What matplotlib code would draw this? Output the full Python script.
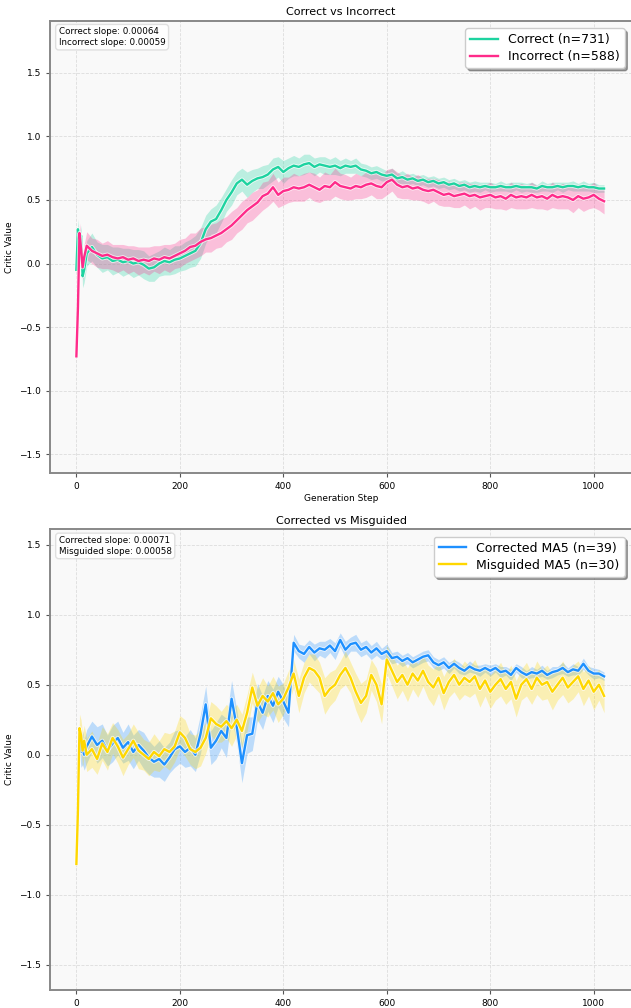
import numpy as np
import matplotlib
matplotlib.use('Agg')
import matplotlib.pyplot as plt
import matplotlib.patheffects as pe

# Generation steps (dense at the start, then every 10 steps)
steps = np.concatenate([[0, 3, 6, 9, 12, 15], np.arange(20, 1021, 10)])

# --- Correct vs Incorrect ---
correct_mean = [
    -0.05, 0.27, 0.12, 0.22, -0.10, -0.05,
    0.08, 0.13, 0.07, 0.04, 0.05, 0.02, 0.03, 0.01, 0.02, 0.00,
    0.01, -0.01, -0.04, -0.03, 0.00, 0.02, 0.01, 0.03, 0.04, 0.06,
    0.08, 0.10, 0.16, 0.27, 0.33, 0.35, 0.42, 0.50, 0.56, 0.63,
    0.66, 0.62, 0.65, 0.67, 0.68, 0.70, 0.74, 0.76, 0.72, 0.75,
    0.77, 0.76, 0.78, 0.79, 0.76, 0.78, 0.77, 0.76, 0.77, 0.75,
    0.77, 0.76, 0.77, 0.74, 0.73, 0.71, 0.72, 0.70, 0.69, 0.70,
    0.67, 0.68, 0.66, 0.67, 0.65, 0.66, 0.64, 0.65, 0.63, 0.64,
    0.62, 0.63, 0.61, 0.62, 0.60, 0.61, 0.60, 0.61, 0.60, 0.60,
    0.61, 0.60, 0.60, 0.61, 0.60, 0.60, 0.60, 0.59, 0.61, 0.60,
    0.60, 0.61, 0.60, 0.61, 0.61, 0.60, 0.61, 0.60, 0.60, 0.59,
    0.59]
correct_err = [
    0.06, 0.08, 0.08, 0.08, 0.09, 0.10,
    0.10, 0.11, 0.10, 0.11, 0.10, 0.11, 0.10, 0.11, 0.10, 0.11,
    0.10, 0.11, 0.10, 0.11, 0.10, 0.11, 0.10, 0.11, 0.10, 0.11,
    0.11, 0.12, 0.12, 0.11, 0.10, 0.11, 0.10, 0.09, 0.10, 0.09,
    0.09, 0.10, 0.09, 0.08, 0.09, 0.08, 0.09, 0.08, 0.09, 0.08,
    0.08, 0.07, 0.08, 0.07, 0.07, 0.06, 0.07, 0.06, 0.07, 0.06,
    0.06, 0.05, 0.06, 0.05, 0.05, 0.05, 0.05, 0.05, 0.04, 0.05,
    0.04, 0.05, 0.04, 0.04, 0.04, 0.04, 0.04, 0.04, 0.04, 0.04,
    0.04, 0.04, 0.04, 0.04, 0.04, 0.04, 0.04, 0.03, 0.04, 0.03,
    0.04, 0.03, 0.04, 0.03, 0.04, 0.03, 0.04, 0.03, 0.04, 0.03,
    0.04, 0.03, 0.04, 0.03, 0.04, 0.03, 0.04, 0.03, 0.04, 0.03,
    0.03]
incorrect_mean = [
    -0.73, -0.35, 0.24, 0.12, -0.03, 0.05,
    0.14, 0.10, 0.08, 0.06, 0.07, 0.05, 0.04, 0.05, 0.03, 0.04,
    0.02, 0.03, 0.02, 0.04, 0.03, 0.05, 0.04, 0.06, 0.08, 0.10,
    0.13, 0.14, 0.17, 0.19, 0.20, 0.22, 0.24, 0.27, 0.30, 0.34,
    0.38, 0.42, 0.45, 0.48, 0.53, 0.55, 0.60, 0.54, 0.57, 0.58,
    0.60, 0.59, 0.60, 0.62, 0.60, 0.58, 0.61, 0.60, 0.64, 0.61,
    0.60, 0.59, 0.61, 0.60, 0.62, 0.63, 0.61, 0.60, 0.64, 0.66,
    0.62, 0.60, 0.61, 0.59, 0.60, 0.58, 0.57, 0.58, 0.56, 0.54,
    0.55, 0.53, 0.54, 0.55, 0.53, 0.54, 0.52, 0.53, 0.54, 0.52,
    0.53, 0.51, 0.54, 0.52, 0.53, 0.52, 0.54, 0.52, 0.53, 0.51,
    0.54, 0.52, 0.53, 0.52, 0.50, 0.53, 0.51, 0.52, 0.54, 0.51,
    0.49]
incorrect_err = [
    0.04, 0.06, 0.08, 0.09, 0.10, 0.10,
    0.11, 0.10, 0.11, 0.10, 0.11, 0.10, 0.11, 0.10, 0.11, 0.10,
    0.11, 0.10, 0.11, 0.10, 0.11, 0.10, 0.11, 0.10, 0.11, 0.10,
    0.11, 0.10, 0.11, 0.10, 0.11, 0.10, 0.11, 0.10, 0.11, 0.10,
    0.11, 0.10, 0.11, 0.10, 0.11, 0.10, 0.11, 0.10, 0.11, 0.10,
    0.11, 0.10, 0.11, 0.10, 0.11, 0.10, 0.11, 0.10, 0.11, 0.10,
    0.10, 0.09, 0.10, 0.09, 0.10, 0.09, 0.10, 0.09, 0.10, 0.09,
    0.10, 0.09, 0.10, 0.09, 0.10, 0.09, 0.10, 0.09, 0.10, 0.09,
    0.10, 0.09, 0.10, 0.09, 0.10, 0.09, 0.10, 0.09, 0.10, 0.09,
    0.10, 0.09, 0.10, 0.09, 0.10, 0.09, 0.10, 0.09, 0.10, 0.09,
    0.10, 0.09, 0.10, 0.09, 0.10, 0.09, 0.10, 0.09, 0.10, 0.09,
    0.10]

# --- Corrected vs Misguided (MA5) ---
corrected_mean = [
    np.nan, np.nan, 0.10, 0.02, 0.05, 0.00,
    0.06, 0.13, 0.07, 0.10, 0.03, 0.08, 0.12, 0.05, 0.09, 0.02,
    0.07, 0.03, -0.02, -0.05, -0.03, -0.07, -0.02, 0.04, 0.06, 0.02,
    0.05, 0.00, 0.15, 0.36, 0.05, 0.10, 0.17, 0.12, 0.40, 0.20,
    -0.06, 0.14, 0.15, 0.38, 0.30, 0.42, 0.35, 0.45, 0.38, 0.30,
    0.80, 0.74, 0.72, 0.77, 0.73, 0.76, 0.75, 0.78, 0.74, 0.82,
    0.75, 0.79, 0.80, 0.75, 0.77, 0.73, 0.76, 0.72, 0.74, 0.69,
    0.70, 0.67, 0.69, 0.66, 0.68, 0.70, 0.71, 0.66, 0.64, 0.66,
    0.62, 0.65, 0.62, 0.60, 0.63, 0.61, 0.60, 0.62, 0.60, 0.62,
    0.59, 0.60, 0.57, 0.62, 0.59, 0.57, 0.59, 0.58, 0.60, 0.57,
    0.59, 0.60, 0.62, 0.59, 0.61, 0.60, 0.65, 0.60, 0.58, 0.58,
    0.56]
corrected_err = [
    np.nan, np.nan, 0.10, 0.11, 0.12, 0.11,
    0.12, 0.11, 0.13, 0.12, 0.11, 0.13, 0.12, 0.11, 0.13, 0.12,
    0.11, 0.13, 0.12, 0.11, 0.13, 0.12, 0.11, 0.13, 0.12, 0.11,
    0.13, 0.12, 0.14, 0.13, 0.12, 0.13, 0.12, 0.14, 0.13, 0.12,
    0.14, 0.13, 0.12, 0.13, 0.12, 0.11, 0.12, 0.11, 0.12, 0.10,
    0.06, 0.05, 0.06, 0.05, 0.06, 0.05, 0.06, 0.05, 0.06, 0.05,
    0.06, 0.05, 0.06, 0.05, 0.05, 0.05, 0.05, 0.04, 0.05, 0.04,
    0.04, 0.04, 0.04, 0.04, 0.04, 0.04, 0.04, 0.04, 0.04, 0.04,
    0.04, 0.03, 0.04, 0.03, 0.04, 0.03, 0.04, 0.03, 0.04, 0.03,
    0.04, 0.03, 0.04, 0.03, 0.04, 0.03, 0.04, 0.03, 0.04, 0.03,
    0.04, 0.03, 0.04, 0.03, 0.04, 0.03, 0.04, 0.03, 0.04, 0.03,
    0.03]
misguided_mean = [
    -0.78, -0.40, 0.19, 0.14, 0.03, 0.10,
    0.00, 0.04, -0.03, 0.08, 0.02, 0.12, 0.06, -0.02, 0.04, 0.10,
    0.03, 0.00, -0.03, 0.02, -0.01, 0.04, 0.02, 0.06, 0.16, 0.12,
    0.04, 0.02, 0.05, 0.12, 0.26, 0.22, 0.20, 0.24, 0.19, 0.25,
    0.17, 0.30, 0.48, 0.35, 0.42, 0.38, 0.44, 0.36, 0.40, 0.48,
    0.58, 0.42, 0.55, 0.62, 0.60, 0.55, 0.42, 0.47, 0.50, 0.57,
    0.62, 0.55, 0.45, 0.37, 0.42, 0.57, 0.50, 0.36, 0.68, 0.60,
    0.52, 0.57, 0.50, 0.58, 0.53, 0.60, 0.52, 0.48, 0.55, 0.44,
    0.52, 0.57, 0.50, 0.55, 0.52, 0.56, 0.47, 0.53, 0.45, 0.50,
    0.54, 0.47, 0.52, 0.40, 0.50, 0.54, 0.47, 0.55, 0.50, 0.52,
    0.45, 0.50, 0.55, 0.48, 0.52, 0.56, 0.47, 0.53, 0.45, 0.50,
    0.42]
misguided_err = [
    0.05, 0.08, 0.10, 0.11, 0.12, 0.11,
    0.12, 0.13, 0.11, 0.12, 0.13, 0.11, 0.12, 0.13, 0.11, 0.12,
    0.13, 0.11, 0.12, 0.13, 0.11, 0.12, 0.13, 0.11, 0.12, 0.13,
    0.11, 0.12, 0.13, 0.11, 0.12, 0.13, 0.11, 0.12, 0.13, 0.11,
    0.12, 0.13, 0.11, 0.12, 0.13, 0.11, 0.12, 0.13, 0.11, 0.12,
    0.10, 0.12, 0.11, 0.10, 0.12, 0.11, 0.13, 0.12, 0.11, 0.10,
    0.12, 0.11, 0.13, 0.14, 0.12, 0.11, 0.12, 0.14, 0.10, 0.11,
    0.12, 0.11, 0.12, 0.11, 0.12, 0.11, 0.12, 0.13, 0.11, 0.12,
    0.11, 0.12, 0.11, 0.12, 0.11, 0.12, 0.13, 0.11, 0.12, 0.11,
    0.12, 0.11, 0.12, 0.13, 0.11, 0.12, 0.11, 0.12, 0.11, 0.12,
    0.13, 0.11, 0.12, 0.11, 0.12, 0.11, 0.12, 0.11, 0.13, 0.11,
    0.12]

panels = [
    {
        'title': 'Correct vs Incorrect',
        'series': [('Correct (n=731)', correct_mean, correct_err, '#1dd3a0'),
                   ('Incorrect (n=588)', incorrect_mean, incorrect_err, '#ff2b8a')],
        'slopes': 'Correct slope: 0.00064\nIncorrect slope: 0.00059',
        'ylim': (-1.65, 1.91),
        'rect': [50 / 631, 1 - 473.3 / 1008, 582 / 631, 452.6 / 1008],
    },
    {
        'title': 'Corrected vs Misguided',
        'series': [('Corrected MA5 (n=39)', corrected_mean, corrected_err, '#1e90ff'),
                   ('Misguided MA5 (n=30)', misguided_mean, misguided_err, '#ffd700')],
        'slopes': 'Corrected slope: 0.00071\nMisguided slope: 0.00058',
        'ylim': (-1.68, 1.61),
        'rect': [50 / 631, 1 - 990 / 1008, 582 / 631, 460.7 / 1008],
    },
]


def draw_panel(fig, panel):
    ax = fig.add_axes(panel['rect'])
    ax.set_facecolor('#f9f9f9')
    outline = [pe.Stroke(linewidth=3.0, foreground='white', alpha=0.7), pe.Normal()]
    for label, mean, err, color in panel['series']:
        mean = np.array(mean, dtype=float)
        err = np.array(err, dtype=float)
        ax.fill_between(steps, mean - err, mean + err, color=color, alpha=0.28, linewidth=0)
        ax.plot(steps, mean, color=color, linewidth=1.7, label=label, path_effects=outline)

    ax.set_xlim(-51, 1074)
    ax.set_ylim(*panel['ylim'])
    ax.set_xticks([0, 200, 400, 600, 800, 1000])
    ax.set_yticks([-1.5, -1.0, -0.5, 0.0, 0.5, 1.0, 1.5])
    ax.grid(True, linestyle='--', color='#dddddd', linewidth=0.6)
    ax.set_axisbelow(True)
    for sp in ax.spines.values():
        sp.set_color('#888888')
        sp.set_linewidth(1.4)
    ax.tick_params(labelsize=6.5, color='#555555', length=3)
    ax.set_title(panel['title'], fontsize=8, pad=4)
    ax.set_xlabel('Generation Step', fontsize=6.5, labelpad=2)
    ax.set_ylabel('Critic Value', fontsize=6.5)
    # place the y label a fixed distance left of the spine
    ax.yaxis.set_label_coords(-0.062, 0.5)

    ax.text(0.015, 0.985, panel['slopes'], transform=ax.transAxes, va='top', ha='left',
            fontsize=6.3, linespacing=1.2,
            bbox=dict(boxstyle='round,pad=0.35', facecolor='white', edgecolor='#dddddd', alpha=0.9))
    ax.legend(loc='upper right', fontsize=9, shadow=True, fancybox=True, framealpha=1,
              borderaxespad=0.6, handlelength=2.2, labelspacing=0.3)
    return ax


def main():
    fig = plt.figure(figsize=(6.31, 10.08), dpi=100)
    for panel in panels:
        draw_panel(fig, panel)
    fig.savefig('out.png', dpi=100)


if __name__ == '__main__':
    main()
